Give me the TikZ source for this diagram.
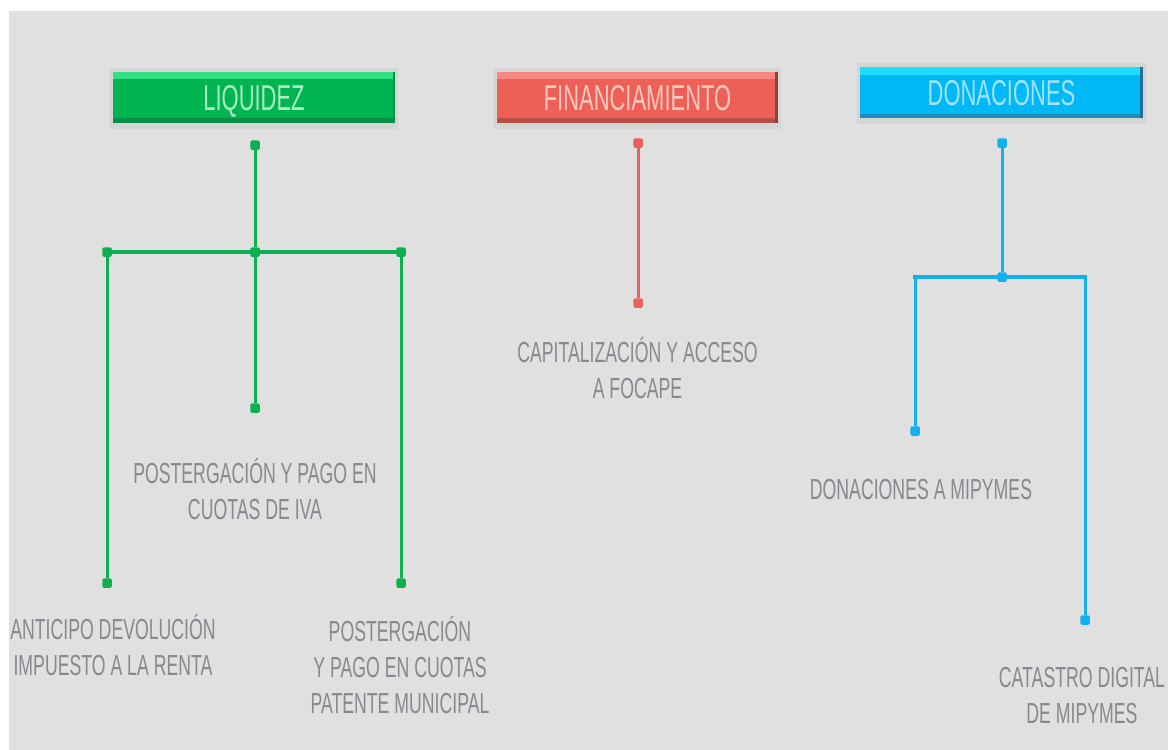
\documentclass[tikz,border=0pt]{standalone}
\usepackage{fontspec}
\setmainfont{Liberation Sans}
\newfontfamily\condfont[FakeStretch=0.61]{Liberation Sans}
\definecolor{bggray}{RGB}{224,224,224}
\definecolor{rimcol}{RGB}{212,214,212}
\definecolor{txtgray}{RGB}{136,136,144}
% green
\definecolor{gfill}{RGB}{0,180,82}
\definecolor{ghi}{RGB}{50,225,130}
\definecolor{glo}{RGB}{12,142,70}
\definecolor{gtxt}{RGB}{170,236,196}
\definecolor{gline}{RGB}{13,176,80}
% red
\definecolor{rfill}{RGB}{236,96,86}
\definecolor{rhi}{RGB}{248,136,128}
\definecolor{rlo}{RGB}{180,80,72}
\definecolor{rtxt}{RGB}{250,200,192}
\definecolor{rline}{RGB}{232,98,90}
% blue
\definecolor{bfill}{RGB}{0,184,245}
\definecolor{bhi}{RGB}{32,220,255}
\definecolor{blo}{RGB}{30,140,190}
\definecolor{btxt}{RGB}{160,226,255}
\definecolor{bline}{RGB}{18,176,238}
\begin{document}
\begin{tikzpicture}[x=1pt,y=-1pt,
  hdr/.style={minimum height=51pt, inner sep=0pt,
    font=\fontsize{36}{40}\selectfont\condfont, text height=25.5pt, text depth=0pt},
  tnode/.style={font=\fontsize{29}{36}\selectfont\condfont, text=txtgray,
    align=center, anchor=north, inner sep=0pt},
  dotbox/.style={rectangle, rounded corners=1.5pt, minimum size=9.5pt, inner sep=0pt},
  gdot/.style={dotbox, fill=gline},
  rdot/.style={dotbox, fill=rline},
  bdot/.style={dotbox, fill=bline},
  vline/.style={line width=3pt},
  hline/.style={line width=4.5pt, line cap=rect},
]
\useasboundingbox (0,0) rectangle (1168,750);
\fill[white] (0,0) rectangle (1168,750);
\fill[bggray] (9,11) rectangle (1168,750);

% header shadows
\fill[rimcol] (110,68) rectangle (398,129);
\fill[rimcol] (494,68) rectangle (781,129);
\fill[rimcol] (857,63) rectangle (1146,124);

% headers
\node[hdr, minimum width=282pt, fill=gfill, text=gtxt] (liq) at (254,97.5) {LIQUIDEZ};
\fill[ghi] (liq.north west) rectangle ([yshift=-7pt]liq.north east);
\fill[glo] ([yshift=5pt]liq.south west) rectangle (liq.south east);
\fill[glo] ([xshift=-2pt]liq.south east) rectangle (liq.north east);

\node[hdr, minimum width=281pt, fill=rfill, text=rtxt] (fin) at (637.5,97.5) {FINANCIAMIENTO};
\fill[rhi] (fin.north west) rectangle ([yshift=-7pt]fin.north east);
\fill[rlo] ([yshift=5pt]fin.south west) rectangle (fin.south east);
\fill[rlo!80!black] ([xshift=-3pt]fin.south east) rectangle (fin.north east);

\node[hdr, minimum width=283pt, fill=bfill, text=btxt] (don) at (1001.5,92.5) {DONACIONES};
\fill[bhi] (don.north west) rectangle ([yshift=-8pt]don.north east);
\fill[blo] ([yshift=4pt]don.south west) rectangle (don.south east);
\fill[blo!80!black] ([xshift=-3pt]don.south east) rectangle (don.north east);

% green tree
\node[gdot] (g0) at (255,145) {};
\node[gdot] (gm) at (255,252) {};
\node[gdot] (gl) at (107,252) {};
\node[gdot] (gr) at (401,252) {};
\node[gdot] (gmb) at (255,408) {};
\node[gdot] (glb) at (107,583) {};
\node[gdot] (grb) at (401,583) {};
\draw[gline, vline] (g0) -- (gm);
\draw[gline, vline] (gm) -- (gmb);
\draw[gline, hline] (gl) -- (gm);
\draw[gline, hline] (gm) -- (gr);
\draw[gline, vline] (gl) -- (glb);
\draw[gline, vline] (gr) -- (grb);

% red
\node[rdot] (r0) at (638,143) {};
\node[rdot] (r1) at (638,303) {};
\draw[rline, vline] (r0) -- (r1);

% blue tree
\node[bdot] (b0) at (1002,143) {};
\node[bdot] (bm) at (1002,277) {};
\coordinate (bcl) at (915,277);
\coordinate (bcr) at (1085,277);
\node[bdot] (bl) at (915,431) {};
\node[bdot] (br) at (1085,620) {};
\draw[bline, vline] (b0) -- (bm);
\draw[bline, hline] (bcl) -- (bm);
\draw[bline, hline] (bm) -- (bcr);
\draw[bline, vline] (bcl) -- (bl);
\draw[bline, vline] (bcr) -- (br);

% texts
\node[tnode] (t1) at (255,453) {\rule{0pt}{30pt}POSTERGACIÓN Y PAGO EN\\CUOTAS DE IVA};
\node[tnode] (t2) at (113,609) {\rule{0pt}{30pt}ANTICIPO DEVOLUCIÓN\\IMPUESTO A LA RENTA};
\node[tnode] (t3) at (400,611) {\rule{0pt}{30pt}POSTERGACIÓN\\Y PAGO EN CUOTAS\\PATENTE MUNICIPAL};
\node[tnode] (t4) at (637.5,332) {\rule{0pt}{30pt}CAPITALIZACIÓN Y ACCESO\\A FOCAPE};
\node[tnode] (t5) at (921,469) {\rule{0pt}{30pt}DONACIONES A MIPYMES};
\node[tnode] (t6) at (1082,657) {\rule{0pt}{30pt}CATASTRO DIGITAL\\DE MIPYMES};
\end{tikzpicture}
\end{document}
